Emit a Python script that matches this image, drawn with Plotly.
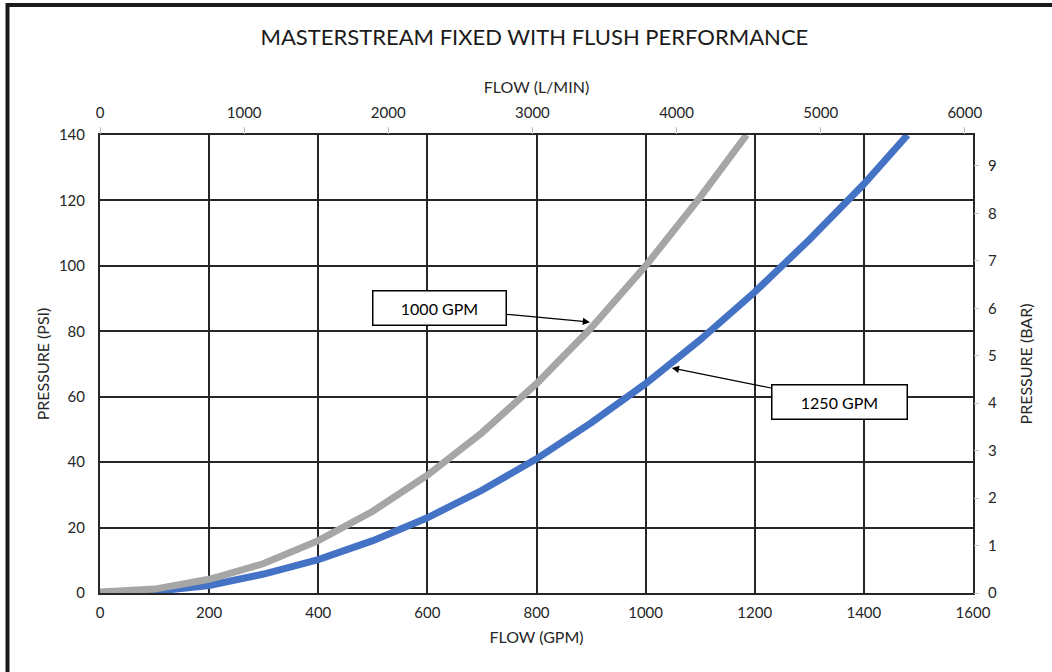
import plotly.graph_objects as go

# flow (GPM) and pressure (PSI)
flow_1000 = [0, 100, 200, 300, 400, 500, 600, 700, 800, 900, 1000, 1100, 1185]
psi_1000 = [0.3, 1.2, 4.2, 9, 16, 25, 36, 49, 64, 81, 100, 121, 140]

flow_1250 = [0, 100, 200, 300, 400, 500, 600, 700, 800, 900, 1000, 1100, 1200, 1300, 1400, 1480]
psi_1250 = [0, 0.5, 2.3, 5.8, 10.2, 16, 23, 31.4, 41, 52, 64, 77.4, 92, 108, 125, 140]

GPM_MAX = 1600
PSI_MAX = 140
LPM_PER_GPM = 3.785411784
BAR_PER_PSI = 0.0689476

GREY = "#a6a6a6"
BLUE = "#4472c4"
GRID = "#262626"
TEXT = "#262626"
FONT = "Lato, Open Sans, sans-serif"

fig = go.Figure()
fig.add_trace(go.Scatter(x=flow_1250, y=psi_1250, mode="lines", name="1250 GPM",
                         line=dict(color=BLUE, width=7)))
fig.add_trace(go.Scatter(x=flow_1000, y=psi_1000, mode="lines", name="1000 GPM",
                         line=dict(color=GREY, width=7)))
# empty trace so the secondary (L/min, bar) axes are drawn
fig.add_trace(go.Scatter(x=[None], y=[None], xaxis="x2", yaxis="y2",
                         showlegend=False, hoverinfo="skip"))

fig.update_layout(
    width=1052, height=672,
    margin=dict(l=100, r=79, t=135, b=79),
    paper_bgcolor="white", plot_bgcolor="white",
    showlegend=False,
    font=dict(family=FONT, color=TEXT, size=15),
    title=dict(text="MASTERSTREAM FIXED WITH FLUSH PERFORMANCE", x=0.508, xanchor="center",
               y=1 - 37 / 672, yanchor="middle", yref="container",
               font=dict(size=22, color="#1a1a1a")),
    xaxis=dict(range=[0, GPM_MAX], dtick=200, showgrid=True, gridcolor=GRID, gridwidth=1.5,
               showline=True, linecolor=GRID, linewidth=2, mirror=True, zeroline=False,
               ticks="", ticklabelstandoff=5, automargin=False,
               title=dict(text="FLOW (GPM)", standoff=12, font=dict(size=16))),
    yaxis=dict(range=[0, PSI_MAX], dtick=20, showgrid=True, gridcolor=GRID, gridwidth=1.5,
               showline=True, linecolor=GRID, linewidth=2, mirror=True, zeroline=False,
               ticks="", ticklabelstandoff=10, automargin=False,
               title=dict(text="PRESSURE (PSI)", standoff=5, font=dict(size=16))),
    xaxis2=dict(range=[0, GPM_MAX * LPM_PER_GPM], dtick=1000, overlaying="x", side="top",
                anchor="y2", showgrid=False, zeroline=False, ticks="outside", ticklen=7,
                tickcolor="#bfbfbf", ticklabelstandoff=3, automargin=False,
                title=dict(text="FLOW (L/MIN)", standoff=5, font=dict(size=16))),
    yaxis2=dict(range=[0, PSI_MAX * BAR_PER_PSI], dtick=1, overlaying="y", side="right",
                anchor="x2", showgrid=False, zeroline=False, ticks="outside", ticklen=5,
                tickcolor="#bfbfbf", ticklabelstandoff=6, automargin=False,
                title=dict(text="PRESSURE (BAR)", standoff=24, font=dict(size=16))),
    annotations=[
        dict(x=898, y=82.8, ax=623, ay=87.1, axref="x", ayref="y", xref="x", yref="y",
             text="1000 GPM", showarrow=True, arrowhead=2, arrowsize=1.2, arrowwidth=1.2,
             arrowcolor="black", bordercolor="black", borderwidth=1.5, bgcolor="white",
             width=130, height=31, font=dict(size=16, color="black")),
        dict(x=1048, y=68.8, ax=1356, ay=58.4, axref="x", ayref="y", xref="x", yref="y",
             text="1250 GPM", showarrow=True, arrowhead=2, arrowsize=1.2, arrowwidth=1.2,
             arrowcolor="black", bordercolor="black", borderwidth=1.5, bgcolor="white",
             width=132, height=31, font=dict(size=16, color="black")),
    ],
    shapes=[
        # outer frame, cut off at the right and bottom edges like the source image
        dict(type="rect", xref="paper", yref="paper",
             x0=(7.5 - 100) / 873, x1=(1070 - 100) / 873,
             y0=(593 - 700) / 458, y1=(593 - 5) / 458,
             line=dict(color="#1a1a1a", width=4), layer="above"),
    ],
)

# drop the browser's default body margin so the figure sits at the window's corner
fig.write_html("out.html", config={"displayModeBar": False},
               post_script="document.body.style.margin='0';document.body.style.overflow='hidden';")
